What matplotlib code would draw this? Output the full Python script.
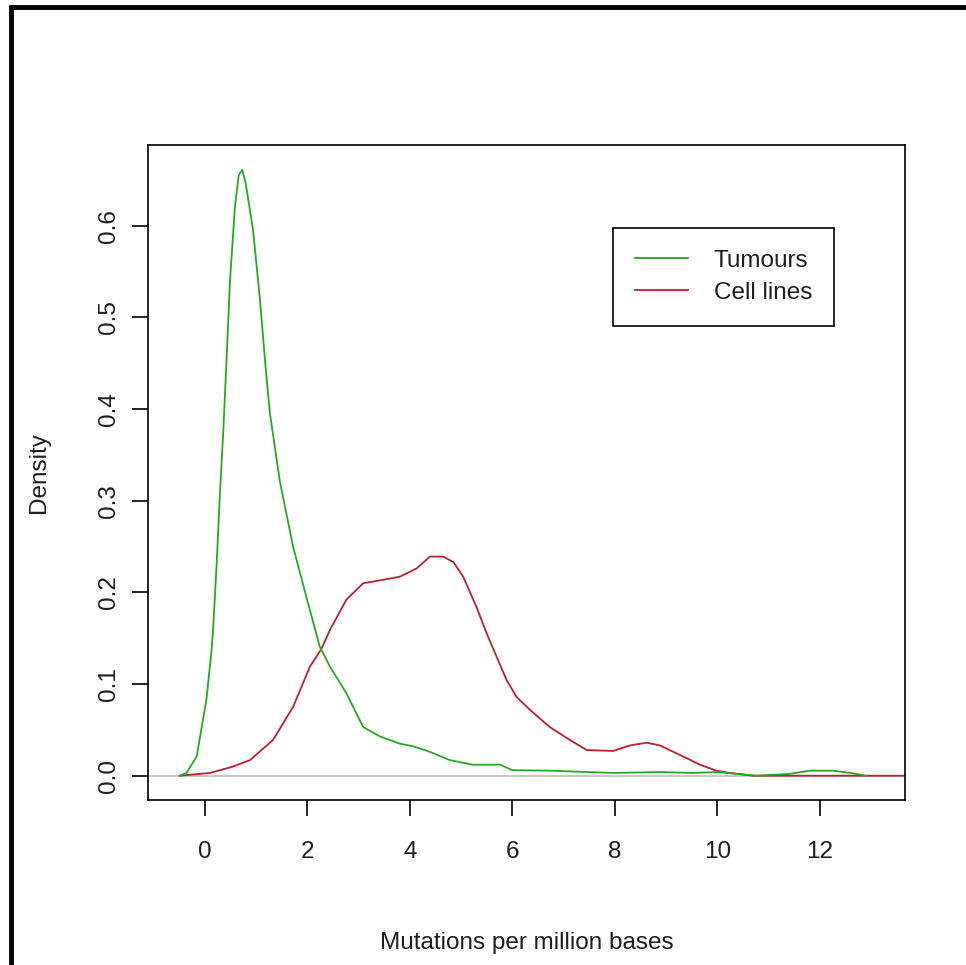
import matplotlib
matplotlib.use("Agg")
import matplotlib.pyplot as plt
from matplotlib.lines import Line2D

plt.rcParams['font.family'] = ['Liberation Sans', 'DejaVu Sans']

# Tumours density curve
tum_x = [-0.49, -0.36, -0.16, 0.03, 0.13, 0.16, 0.23, 0.29, 0.36, 0.42, 0.49, 0.585,
         0.66, 0.73, 0.80, 0.94, 1.07, 1.19, 1.27, 1.46, 1.72, 1.98, 2.24, 2.44, 2.76,
         3.09, 3.41, 3.8, 4.07, 4.39, 4.78, 5.23, 5.76, 6.0, 6.73, 7.97, 8.88, 9.5,
         10.0, 10.76, 11.41, 11.8, 12.25, 12.6, 12.91]
tum_y = [0, 0.003, 0.021, 0.083, 0.137, 0.159, 0.232, 0.304, 0.377, 0.45, 0.54, 0.62,
         0.655, 0.661, 0.645, 0.595, 0.522, 0.442, 0.395, 0.322, 0.25, 0.195, 0.141,
         0.119, 0.09, 0.053, 0.043, 0.035, 0.032, 0.026, 0.017, 0.012, 0.012, 0.006,
         0.0055, 0.003, 0.004, 0.003, 0.004, 0.0, 0.002, 0.0055, 0.0055, 0.003, 0.0]

# Cell lines density curve
cell_x = [-0.49, 0.1, 0.55, 0.88, 1.33, 1.72, 2.05, 2.28, 2.44, 2.76, 3.09, 3.41, 3.8,
          4.13, 4.39, 4.65, 4.85, 5.04, 5.3, 5.5, 5.69, 5.89, 6.08, 6.34, 6.73, 7.12,
          7.45, 7.97, 8.29, 8.62, 8.88, 9.33, 9.66, 9.98, 10.24, 10.7, 13.7]
cell_y = [0, 0.003, 0.01, 0.017, 0.039, 0.075, 0.119, 0.139, 0.159, 0.192, 0.21, 0.213,
          0.217, 0.226, 0.239, 0.239, 0.233, 0.217, 0.184, 0.155, 0.13, 0.104, 0.086,
          0.072, 0.053, 0.039, 0.028, 0.027, 0.033, 0.036, 0.033, 0.021, 0.012, 0.0055,
          0.003, 0.0, 0.0]

x_ticks = [0, 2, 4, 6, 8, 10, 12]
y_ticks = [0.0, 0.1, 0.2, 0.3, 0.4, 0.5, 0.6]
series_labels = ["Tumours", "Cell lines"]

W, H = 966, 965
FS = 17.5
TXT = '#1e1e1e'
fig = plt.figure(figsize=(W / 100, H / 100), dpi=100)
ax = fig.add_axes([148 / W, 1 - 800 / H, (905 - 148) / W, (800 - 145) / H])

ax.axhline(0, color='#bebebe', lw=1.2, zorder=1)
ax.plot(tum_x, tum_y, color='#22aa22', lw=1.3, label=series_labels[0], zorder=3)
ax.plot(cell_x, cell_y, color='#b8222c', lw=1.3, label=series_labels[1], zorder=2)

ax.set_xlim(-1.11, 13.66)
ax.set_ylim(-0.0265, 0.688)
ax.set_xticks(x_ticks)
ax.set_xticklabels([str(t) for t in x_ticks])
ax.set_yticks(y_ticks)
ax.set_yticklabels([f"{t:.1f}" for t in y_ticks], rotation=90, va='center')

for s in ax.spines.values():
    s.set_linewidth(1.2)
    s.set_color('black')
ax.tick_params(direction='out', length=11.5, width=1.2, labelsize=FS, colors='black',
               labelcolor=TXT)
ax.tick_params(axis='x', pad=18)
ax.tick_params(axis='y', pad=9)

ax.set_xlabel("Mutations per million bases", fontsize=FS, labelpad=50, color=TXT)
ax.set_ylabel("Density", fontsize=FS, labelpad=34, color=TXT)

leg = ax.legend(loc='upper left', bbox_to_anchor=((613 - 148) / 757, (800 - 228) / 655),
                fancybox=False, edgecolor='black', fontsize=FS, handlelength=2.2,
                handletextpad=1.05, borderpad=0.9, labelspacing=0.4, borderaxespad=0,
                framealpha=1)
leg.get_frame().set_linewidth(1.2)
for t in leg.get_texts():
    t.set_color(TXT)

# outer border (top and left only)
fig.add_artist(Line2D([9 / W, 1.0], [1 - 7 / H, 1 - 7 / H], transform=fig.transFigure,
                      color='black', lw=3.5, solid_capstyle='butt'))
fig.add_artist(Line2D([11 / W, 11 / W], [0, 1 - 5 / H], transform=fig.transFigure,
                      color='black', lw=3.5, solid_capstyle='butt'))

fig.savefig("out.png", dpi=100, facecolor='white')
